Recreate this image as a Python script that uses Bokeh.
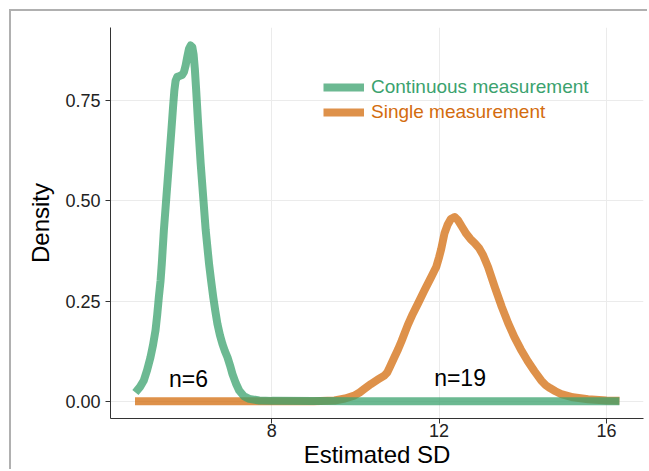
from bokeh.plotting import figure
from bokeh.models import Range1d, FixedTicker, Legend, LegendItem, NumeralTickFormatter
from bokeh.core.properties import value
from bokeh.embed import file_html
from bokeh.resources import INLINE

# ---- data ----
series_names = ["Continuous measurement", "Single measurement"]

cont_x = [4.74, 4.85, 4.94, 5.02, 5.10, 5.16, 5.22, 5.26, 5.30, 5.34, 5.37, 5.42,
          5.48, 5.54, 5.60, 5.64, 5.67, 5.70, 5.74, 5.80, 5.86, 5.90, 5.94, 5.98,
          6.02, 6.06, 6.10, 6.13, 6.16, 6.19, 6.24, 6.30, 6.36, 6.42, 6.50, 6.55,
          6.60, 6.65, 6.70, 6.76, 6.82, 6.88, 6.94, 7.00, 7.06, 7.14, 7.22, 7.34,
          7.46, 7.70, 8.00, 10.0, 12.0, 14.0, 16.31]
cont_y = [0.022, 0.036, 0.052, 0.078, 0.11, 0.14, 0.177, 0.215, 0.26, 0.30, 0.343, 0.427,
          0.51, 0.593, 0.677, 0.735, 0.775, 0.800, 0.810, 0.812, 0.815, 0.822, 0.838, 0.860,
          0.880, 0.888, 0.884, 0.866, 0.83, 0.78, 0.690, 0.593, 0.51, 0.427, 0.343, 0.30,
          0.26, 0.225, 0.193, 0.165, 0.143, 0.125, 0.11, 0.09, 0.068, 0.045, 0.027, 0.012,
          0.006, 0.002, 0.001, 0.0, 0.0, 0.0, 0.0]

single_x = [4.73, 7.0, 9.0, 9.50, 9.75, 9.97, 10.10, 10.20, 10.37, 10.55, 10.69, 10.76,
            10.82, 10.93, 11.02, 11.10, 11.25, 11.37, 11.50, 11.65, 11.81, 11.93, 12.00,
            12.05, 12.13, 12.20, 12.28, 12.37, 12.45, 12.55, 12.65, 12.75, 12.85, 12.95,
            13.05, 13.17, 13.33, 13.50, 13.65, 13.80, 13.95, 14.12, 14.28, 14.44, 14.55,
            14.65, 14.78, 14.92, 15.20, 15.56, 16.0, 16.31]
single_y = [0.0, 0.0, 0.0, 0.002, 0.007, 0.014, 0.022, 0.03, 0.043, 0.055, 0.064, 0.072,
            0.085, 0.11, 0.13, 0.15, 0.19, 0.218, 0.245, 0.277, 0.31, 0.335, 0.36,
            0.38, 0.42, 0.44, 0.455, 0.46, 0.452, 0.435, 0.418, 0.405, 0.395, 0.383,
            0.365, 0.335, 0.285, 0.235, 0.195, 0.16, 0.13, 0.10, 0.075, 0.052, 0.040,
            0.033, 0.025, 0.018, 0.010, 0.005, 0.002, 0.001]

annot_x = [6.01, 12.50]
annot_y = [0.056, 0.057]
annot_text = ["n=6", "n=19"]

x_ticks = [8, 12, 16]
y_ticks = [0.0, 0.25, 0.50, 0.75]

# ---- styles ----
GREEN = "#3BA26E"
ORANGE = "#D36C0E"
FONT = "Liberation Sans"

p = figure(width=638, height=460, output_backend="svg", toolbar_location=None,
           x_range=Range1d(4.144, 16.886), y_range=Range1d(-0.043, 0.933),
           min_border_left=99, min_border_right=6, min_border_top=16,
           min_border_bottom=53)
p.margin = (9, 0, 0, 9)
p.styles = {"border-left": "2px solid #b0b0b0", "border-top": "2px solid #b0b0b0"}
p.outline_line_color = None
p.background_fill_color = "white"
p.border_fill_color = "white"

r_single = p.line(single_x, single_y, line_color=ORANGE, line_alpha=0.75,
                  line_width=8, line_join="round", line_cap="butt")
r_cont = p.line(cont_x, cont_y, line_color=GREEN, line_alpha=0.75,
                line_width=8, line_join="round", line_cap="butt")

p.text(x=annot_x, y=annot_y, text=annot_text, text_font=value(FONT),
       text_font_size="23px", text_align="center", text_baseline="middle",
       text_color="black")

# axes
p.xaxis.ticker = FixedTicker(ticks=x_ticks)
p.yaxis.ticker = FixedTicker(ticks=y_ticks)
p.xgrid.ticker = FixedTicker(ticks=x_ticks)
p.ygrid.ticker = FixedTicker(ticks=y_ticks)
p.yaxis.formatter = NumeralTickFormatter(format="0.00")
p.grid.grid_line_color = "#ebebeb"
p.grid.grid_line_width = 1

p.xaxis.axis_label = "Estimated SD"
p.yaxis.axis_label = "Density"
for ax in (p.xaxis, p.yaxis):
    ax.axis_line_color = "#333333"
    ax.axis_line_width = 1
    ax.major_tick_line_color = "#333333"
    ax.major_tick_out = 5
    ax.major_tick_in = 0
    ax.minor_tick_line_color = None
    ax.major_label_text_font = FONT
    ax.major_label_text_font_size = "18px"
    ax.major_label_text_color = "#222222"
    ax.axis_label_text_font = FONT
    ax.axis_label_text_font_size = "24px"
    ax.axis_label_text_font_style = "normal"
    ax.axis_label_text_color = "black"
p.xaxis.major_label_standoff = 0
p.xaxis.axis_label_standoff = 1
p.yaxis.major_label_standoff = 5
p.yaxis.axis_label_standoff = 8

# legends (one per series so the label colours can differ)
leg_common = dict(padding=0, margin=0, spacing=0, glyph_width=41, glyph_height=24,
                  label_height=24, label_standoff=7, border_line_color=None,
                  background_fill_alpha=0, label_text_font=FONT,
                  label_text_font_size="19px")
leg1 = Legend(items=[LegendItem(label=series_names[0], renderers=[r_cont])],
              location=(213, 319), label_text_color=GREEN, **leg_common)
leg2 = Legend(items=[LegendItem(label=series_names[1], renderers=[r_single])],
              location=(213, 294), label_text_color=ORANGE, **leg_common)
p.add_layout(leg1, "center")
p.add_layout(leg2, "center")

open("out.html", "w").write(file_html(p, INLINE))
